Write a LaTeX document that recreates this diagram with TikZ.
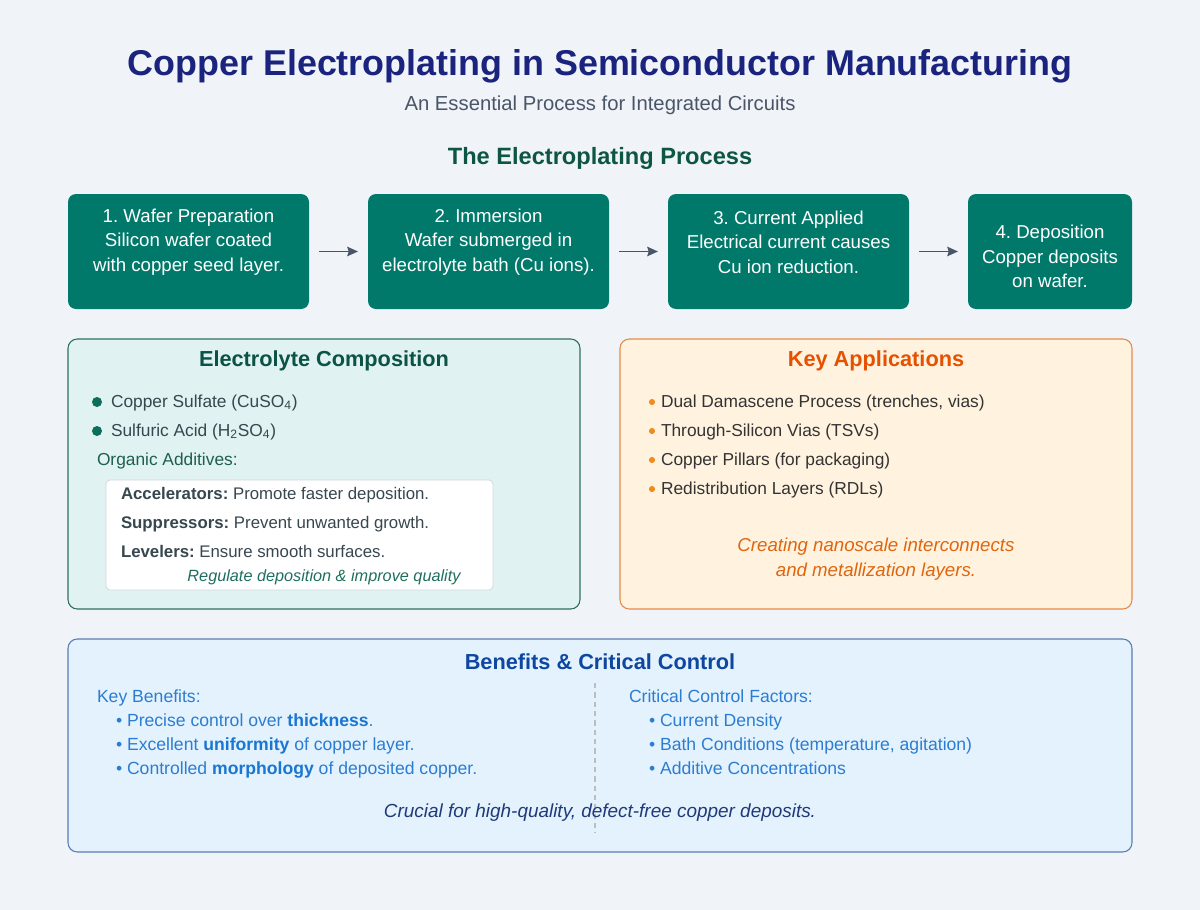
\documentclass[tikz,border=0pt]{standalone}
\usepackage{fontspec}
\setmainfont{Liberation Sans}
\usetikzlibrary{arrows.meta}
\frenchspacing
\definecolor{bg}{HTML}{F0F4F8}
\definecolor{titlec}{HTML}{1A237E}
\definecolor{subc}{HTML}{4A5568}
\definecolor{greenhead}{HTML}{0D5545}
\definecolor{stepfill}{HTML}{00796B}
\definecolor{arrc}{HTML}{4A5568}
\definecolor{elfill}{HTML}{E0F2F1}
\definecolor{elborder}{HTML}{2F6F62}
\definecolor{eltitle}{HTML}{0B5345}
\definecolor{eldot}{HTML}{0D6E5B}
\definecolor{listc}{HTML}{37474F}
\definecolor{orgc}{HTML}{1F5F50}
\definecolor{wbborder}{HTML}{CFD8DC}
\definecolor{italgreen}{HTML}{1F6F5F}
\definecolor{apfill}{HTML}{FFF3E0}
\definecolor{apborder}{HTML}{E58A4A}
\definecolor{aptitle}{HTML}{E65100}
\definecolor{apdot}{HTML}{F08C1E}
\definecolor{aptext}{HTML}{333333}
\definecolor{apital}{HTML}{E0650F}
\definecolor{befill}{HTML}{E3F2FD}
\definecolor{beborder}{HTML}{5B7DB1}
\definecolor{betitle}{HTML}{0D47A1}
\definecolor{betext}{HTML}{2B7DD3}
\definecolor{bebold}{HTML}{1976D2}
\definecolor{beital}{HTML}{1E3A7A}
\definecolor{dashc}{HTML}{BDBDBD}
\begin{document}
\begin{tikzpicture}[x=0.75pt,y=-0.75pt,
  every node/.style={inner sep=0pt, outer sep=0pt},
  stepbox/.style={fill=stepfill, draw=none, rounded corners=6pt, minimum height=86.25pt},
  steptext/.style={text=white, align=center, font=\fontsize{14pt}{18.4pt}\selectfont},
  arr/.style={draw=arrc, line width=1.4pt, -{Stealth[length=8pt,width=7pt,inset=1pt]}, shorten <=7.5pt, shorten >=7.5pt},
  panel/.style={rounded corners=7pt, line width=0.8pt},
  ptitle/.style={font=\fontsize{16.3pt}{19pt}\selectfont\bfseries},
  listtext/.style={anchor=base west, font=\fontsize{13pt}{15pt}\selectfont},
  smalltext/.style={anchor=base west, font=\fontsize{12.6pt}{14pt}\selectfont, text=listc},
  betxt/.style={anchor=base west, font=\fontsize{13.2pt}{15pt}\selectfont, text=betext},
]
\useasboundingbox[fill=bg] (0,0) rectangle (1200,910);

% titles
\node[text=titlec, font=\fontsize{26.9pt}{31pt}\selectfont\bfseries] (title) at (600,66) {Copper Electroplating in Semiconductor Manufacturing};
\node[text=subc, font=\fontsize{15.2pt}{18pt}\selectfont] (subtitle) at (600,105) {An Essential Process for Integrated Circuits};
\node[text=greenhead, font=\fontsize{17.7pt}{21pt}\selectfont\bfseries] (proc) at (600,158) {The Electroplating Process};

% process steps
\node[stepbox, minimum width=180.75pt] (s1) at (188.5,251.5) {};
\node[stepbox, minimum width=180.75pt] (s2) at (488.5,251.5) {};
\node[stepbox, minimum width=180.75pt] (s3) at (788.5,251.5) {};
\node[stepbox, minimum width=123pt] (s4) at (1050,251.5) {};
\node[steptext] (t1) at (188.5,242) {1. Wafer Preparation\\Silicon wafer coated\\with copper seed layer.};
\node[steptext] (t2) at (488.5,242) {2. Immersion\\Wafer submerged in\\electrolyte bath (Cu ions).};
\node[steptext] (t3) at (788.5,242) {3. Current Applied\\Electrical current causes\\Cu ion reduction.};
\node[steptext] (t4) at (1050,256.5) {4. Deposition\\Copper deposits\\on wafer.};
\draw[arr] (s1.east) -- (s2.west);
\draw[arr] (s2.east) -- (s3.west);
\draw[arr] (s3.east) -- (s4.west);

% electrolyte panel
\draw[panel, fill=elfill, draw=elborder] (68,339) rectangle (580,609);
\node[ptitle, text=eltitle] (elt) at (324,361) {Electrolyte Composition};
\fill[eldot] (97,402) circle[radius=3.75pt];
\fill[eldot] (97,431) circle[radius=3.75pt];
\node[listtext, text=listc] (e1) at (111,407) {Copper Sulfate (CuSO\textsubscript{4})};
\node[listtext, text=listc] (e2) at (111,436) {Sulfuric Acid (H\textsubscript{2}SO\textsubscript{4})};
\node[listtext, text=orgc] (org) at (97,465) {Organic Additives:};
\draw[fill=white, draw=wbborder, line width=0.6pt, rounded corners=3pt] (106,480) rectangle (493,590);
\node[smalltext] (a1) at (121,499) {\textbf{Accelerators:} Promote faster deposition.};
\node[smalltext] (a2) at (121,528) {\textbf{Suppressors:} Prevent unwanted growth.};
\node[smalltext] (a3) at (121,557) {\textbf{Levelers:} Ensure smooth surfaces.};
\node[anchor=base, text=italgreen, font=\fontsize{12.2pt}{14pt}\selectfont\itshape] (reg) at (324,581) {Regulate deposition \& improve quality};

% applications panel
\draw[panel, fill=apfill, draw=apborder] (620,339) rectangle (1132,609);
\node[ptitle, text=aptitle] (apt) at (876,361) {Key Applications};
\foreach \yy in {402,431,460,489}{
  \fill[apdot] (652,\yy) circle[radius=2.3pt];
}
\node[listtext, text=aptext] (p1) at (661,407) {Dual Damascene Process (trenches, vias)};
\node[listtext, text=aptext] (p2) at (661,436) {Through-Silicon Vias (TSVs)};
\node[listtext, text=aptext] (p3) at (661,465) {Copper Pillars (for packaging)};
\node[listtext, text=aptext] (p4) at (661,494) {Redistribution Layers (RDLs)};
\node[text=apital, align=center, font=\fontsize{14pt}{18.4pt}\selectfont\itshape] (cre) at (876,559) {Creating nanoscale interconnects\\and metallization layers.};

% benefits panel
\draw[panel, fill=befill, draw=beborder] (68,639) rectangle (1132,852);
\node[ptitle, text=betitle] (bet) at (600,662) {Benefits \& Critical Control};
\coordinate (dtop) at (595,683);
\coordinate (dbot) at (595,833);
\draw[dashc, line width=0.8pt, dash pattern=on 4pt off 3pt] (dtop) -- (dbot);
\node[betxt] (kb) at (97,702) {Key Benefits:};
\node[betxt] (b1) at (116,726) {\textbullet\ Precise control over \textcolor{bebold}{\textbf{thickness}}.};
\node[betxt] (b2) at (116,750) {\textbullet\ Excellent \textcolor{bebold}{\textbf{uniformity}} of copper layer.};
\node[betxt] (b3) at (116,774) {\textbullet\ Controlled \textcolor{bebold}{\textbf{morphology}} of deposited copper.};
\node[betxt] (cc) at (629,702) {Critical Control Factors:};
\node[betxt] (c1) at (649,726) {\textbullet\ Current Density};
\node[betxt] (c2) at (649,750) {\textbullet\ Bath Conditions (temperature, agitation)};
\node[betxt] (c3) at (649,774) {\textbullet\ Additive Concentrations};
\node[anchor=base, text=beital, font=\fontsize{14.2pt}{17pt}\selectfont\itshape] (cru) at (600,817) {Crucial for high-quality, defect-free copper deposits.};
\end{tikzpicture}
\end{document}
